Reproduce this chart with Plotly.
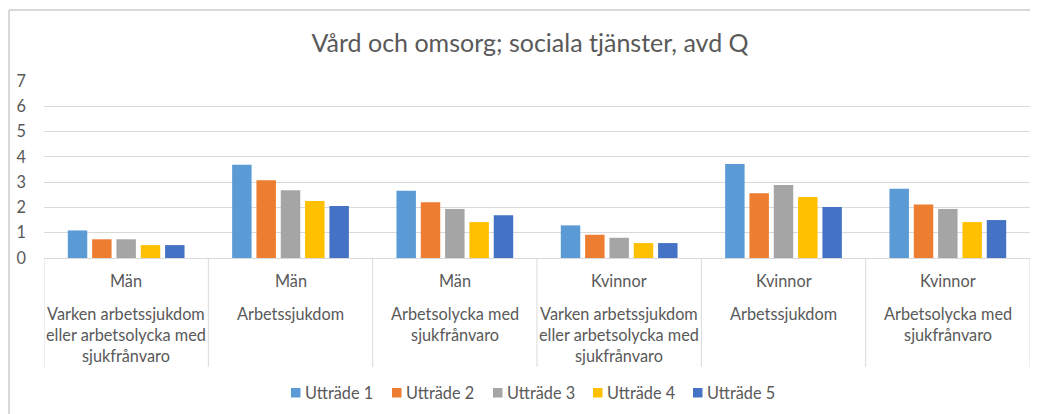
import plotly.graph_objects as go

gender = ["Män", "Män", "Män", "Kvinnor", "Kvinnor", "Kvinnor"]
subcat = [
    "Varken arbetssjukdom<br>eller arbetsolycka med<br>sjukfrånvaro",
    "Arbetssjukdom",
    "Arbetsolycka med<br>sjukfrånvaro",
    "Varken arbetssjukdom<br>eller arbetsolycka med<br>sjukfrånvaro",
    "Arbetssjukdom",
    "Arbetsolycka med<br>sjukfrånvaro",
]
series_names = ["Utträde 1", "Utträde 2", "Utträde 3", "Utträde 4", "Utträde 5"]
utt1 = [1.09, 3.69, 2.66, 1.29, 3.72, 2.74]
utt2 = [0.74, 3.07, 2.20, 0.92, 2.56, 2.12]
utt3 = [0.74, 2.68, 1.94, 0.80, 2.89, 1.94]
utt4 = [0.51, 2.25, 1.42, 0.59, 2.41, 1.42]
utt5 = [0.51, 2.06, 1.69, 0.59, 2.02, 1.50]
colors = ["#5B9BD5", "#ED7D31", "#A5A5A5", "#FFC000", "#4472C4"]

FONT = "Lato"
TXT = "#595959"
GRID = "#D9D9D9"
FS = 16.3

# page body has an 8px margin; the figure is offset accordingly
W, H = 1030, 406
PL, PR, PT, PB = 44 - 8, 1030 - 8, 81 - 8, 258 - 8   # plot area in figure px
PW, PH = PR - PL, PB - PT


def py(pix):  # reference page y pixel -> paper y
    return ((PB + 8) - pix) / PH


def px(pix):  # reference page x pixel -> paper x
    return (pix - (PL + 8)) / PW


xpos = list(range(len(gender)))
fig = go.Figure()
for name, vals, col in zip(series_names, [utt1, utt2, utt3, utt4, utt5], colors):
    fig.add_trace(go.Bar(x=xpos, y=vals, name=name, marker=dict(color=col, line=dict(width=0)),
                         showlegend=False))

shapes = []
for i in range(len(gender) + 1):
    shapes.append(dict(type="line", xref="x", yref="paper", x0=i - 0.5, x1=i - 0.5,
                       y0=0, y1=py(367), line=dict(color=GRID, width=1)))
# chart frame
shapes.append(dict(type="line", xref="paper", yref="paper", x0=px(9), x1=1.05,
                   y0=py(10), y1=py(10), line=dict(color=GRID, width=2)))
shapes.append(dict(type="line", xref="paper", yref="paper", x0=px(9), x1=px(9),
                   y0=py(10), y1=-1.0, line=dict(color=GRID, width=2)))

annotations = []
for i, (g, s) in enumerate(zip(gender, subcat)):
    annotations.append(dict(x=i, y=py(280), xref="x", yref="paper", text=g,
                            showarrow=False, yanchor="middle",
                            font=dict(family=FONT, size=FS, color=TXT)))
    annotations.append(dict(x=i, y=py(302), xref="x", yref="paper", text=s,
                            showarrow=False, yanchor="top", align="center",
                            font=dict(family=FONT, size=FS, color=TXT)))

# legend (square keys + labels), placed as in the reference
legend_left = [291, 392, 493, 593, 693]
for name, col, lx in zip(series_names, colors, legend_left):
    shapes.append(dict(type="rect", xref="paper", yref="paper", x0=px(lx), x1=px(lx + 9.5),
                       y0=py(397.5), y1=py(388), fillcolor=col, line=dict(width=0)))
    annotations.append(dict(x=px(lx + 12), y=py(392.5), xref="paper", yref="paper", text=name,
                            showarrow=False, xanchor="left", yanchor="middle",
                            font=dict(family=FONT, size=FS, color=TXT)))

fig.update_layout(
    width=W, height=H,
    margin=dict(l=PL, r=W - PR, t=PT, b=H - PB),
    paper_bgcolor="white", plot_bgcolor="white",
    barmode="group", bargap=0.26, bargroupgap=0.2,
    showlegend=False,
    title=dict(text="Vård och omsorg; sociala tjänster, avd Q", x=px(530), xref="paper",
               xanchor="center", y=1 - (43 - 8) / H, yref="container", yanchor="middle",
               font=dict(family=FONT, size=25, color=TXT)),
    xaxis=dict(range=[-0.5, 5.5], showticklabels=False, showgrid=False, zeroline=False,
               showline=True, linecolor=GRID, linewidth=1, ticks=""),
    yaxis=dict(range=[0, 7], dtick=1, showgrid=True, gridcolor=GRID, gridwidth=1,
               zeroline=False, showline=False, ticks="",
               tickfont=dict(family=FONT, size=FS, color=TXT), ticklabelstandoff=17),
    shapes=shapes, annotations=annotations,
    font=dict(family=FONT, color=TXT),
)
fig.write_html("out.html")
